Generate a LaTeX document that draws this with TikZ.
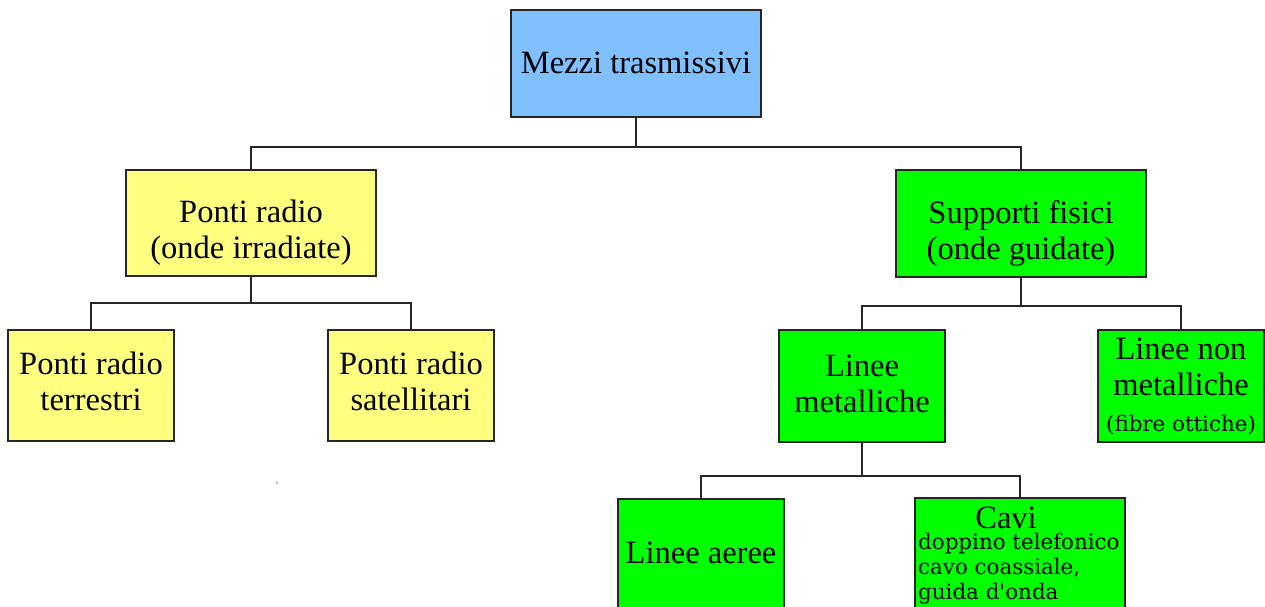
\documentclass[tikz,border=0pt]{standalone}
\usepackage{fontspec}
\setmainfont{Liberation Serif}
\newfontfamily\smallserif{DejaVu Serif}
\definecolor{blueM}{HTML}{80C0FF}
\definecolor{yellowM}{HTML}{FFFF80}
\definecolor{greenM}{HTML}{00FF00}
\begin{document}
\begin{tikzpicture}[x=1pt,y=-1pt,
  box/.style={draw=black!85, line width=1.8pt, rectangle, inner sep=0pt},
  bigtext/.style={inner sep=0pt, align=center, font=\fontsize{32.5}{36}\selectfont},
  smalltext/.style={inner sep=0pt, align=left, font=\smallserif\fontsize{21.4}{25}\selectfont},
  conn/.style={draw=black!85, line width=1.8pt},
]
\clip (0,0) rectangle (1265,606);
\fill[white] (0,0) rectangle (1265,606);

% boxes
\node[box, fill=blueM, minimum width=250, minimum height=107] (mezzi) at (636,63.5) {};
\node[box, fill=yellowM, minimum width=250, minimum height=106] (pr) at (251,223) {};
\node[box, fill=greenM, minimum width=250, minimum height=107] (sf) at (1021,223.5) {};
\node[box, fill=yellowM, minimum width=166, minimum height=111] (prt) at (91,385.5) {};
\node[box, fill=yellowM, minimum width=166, minimum height=111] (prs) at (411,385.5) {};
\node[box, fill=greenM, minimum width=166, minimum height=112] (lm) at (862,386) {};
\node[box, fill=greenM, minimum width=166, minimum height=112] (lnm) at (1181,386) {};
\node[box, fill=greenM, minimum width=166, minimum height=110] (la) at (701,554) {};
\node[box, fill=greenM, minimum width=210, minimum height=114] (cavi) at (1020,555) {};

% texts
\node[bigtext] (mezzit) at (636,63) {Mezzi trasmissivi};
\node[bigtext] (prt1) at (251,233) {Ponti radio\\(onde irradiate)};
\node[bigtext] (sft) at (1021,234) {Supporti fisici\\(onde guidate)};
\node[bigtext] (prtt) at (91,381) {Ponti radio\\terrestri};
\node[bigtext] (prst) at (411,381) {Ponti radio\\satellitari};
\node[bigtext] (lmt) at (862,383.5) {Linee\\metalliche};
\node[bigtext] (lnmt) at (1181,386)
  {Linee non\\metalliche\\{\smallserif\fontsize{21.4}{25}\selectfont (fibre ottiche)}};
\node[bigtext] (lat) at (701,553) {Linee aeree};
\node[bigtext] (cavit) at (1006,518) {Cavi};
\node[smalltext, anchor=west] (cavil) at (918,569) {doppino telefonico\\cavo coassiale,\\guida d\textquotesingle onda};

% connectors
\coordinate (b1) at (0,147);
\coordinate (b2) at (0,303);
\coordinate (b3) at (0,306);
\coordinate (b4) at (0,476);
\draw[conn] (mezzi.south) -- (mezzi.south |- b1) -| (pr.north);
\draw[conn] (mezzi.south |- b1) -| (sf.north);
\draw[conn] (pr.south) -- (pr.south |- b2) -| (prt.north);
\draw[conn] (pr.south |- b2) -| (prs.north);
\draw[conn] (sf.south) -- (sf.south |- b3) -| (lm.north);
\draw[conn] (sf.south |- b3) -| (lnm.north);
\draw[conn] (lm.south) -- (lm.south |- b4) -| (la.north);
\draw[conn] (lm.south |- b4) -| (cavi.north);

% stray dot
\fill[black!60] (277,483) circle (0.9);
\end{tikzpicture}
\end{document}
